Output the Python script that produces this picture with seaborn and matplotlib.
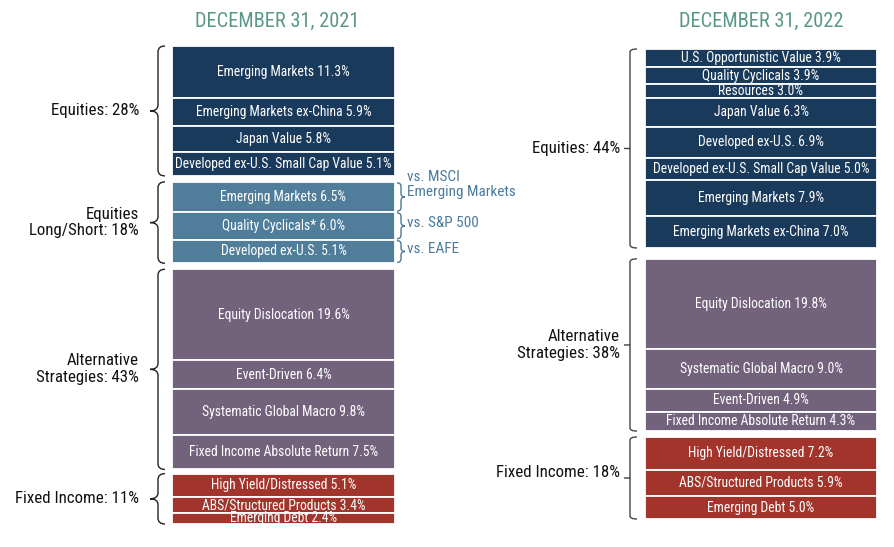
import pandas as pd
import matplotlib
matplotlib.use("Agg")
import matplotlib.pyplot as plt
import seaborn as sns
from matplotlib import font_manager
from matplotlib.path import Path
from matplotlib.patches import PathPatch
from matplotlib.transforms import blended_transform_factory


# ---------------- data ----------------

names_2021 = [
    "Emerging Markets", "Emerging Markets ex-China", "Japan Value",
    "Developed ex-U.S. Small Cap Value",
    "Emerging Markets", "Quality Cyclicals*", "Developed ex-U.S.",
    "Equity Dislocation", "Event-Driven", "Systematic Global Macro",
    "Fixed Income Absolute Return",
    "High Yield/Distressed", "ABS/Structured Products", "Emerging Debt",
]
values_2021 = [11.3, 5.9, 5.8, 5.1, 6.5, 6.0, 5.1, 19.6, 6.4, 9.8, 7.5, 5.1, 3.4, 2.4]
groups_2021 = ["Equities: 28%", "Equities\nLong/Short: 18%",
               "Alternative\nStrategies: 43%", "Fixed Income: 11%"]
group_sizes_2021 = [4, 3, 4, 3]
group_kinds_2021 = ["eq", "ls", "alt", "fi"]
benchmarks_2021 = ["vs. MSCI\nEmerging Markets", "vs. S&P 500", "vs. EAFE"]

names_2022 = [
    "U.S. Opportunistic Value", "Quality Cyclicals", "Resources", "Japan Value",
    "Developed ex-U.S.", "Developed ex-U.S. Small Cap Value",
    "Emerging Markets", "Emerging Markets ex-China",
    "Equity Dislocation", "Systematic Global Macro", "Event-Driven",
    "Fixed Income Absolute Return",
    "High Yield/Distressed", "ABS/Structured Products", "Emerging Debt",
]
values_2022 = [3.9, 3.9, 3.0, 6.3, 6.9, 5.0, 7.9, 7.0, 19.8, 9.0, 4.9, 4.3, 7.2, 5.9, 5.0]
groups_2022 = ["Equities: 44%", "Alternative\nStrategies: 38%", "Fixed Income: 18%"]
group_sizes_2022 = [8, 4, 3]
group_kinds_2022 = ["eq", "alt", "fi"]

colors = {"eq": "#193a5b", "ls": "#4f7d9a", "alt": "#72627c", "fi": "#a3342b"}
title_color = "#5a9787"
bench_color = "#4a7b9d"


# ---------------- style ----------------

sns.set_theme(style="white")
avail = {f.name for f in font_manager.fontManager.ttflist}
family = "DejaVu Sans"
for cand in ["Roboto Condensed", "Liberation Sans Narrow", "Roboto"]:
    if cand in avail:
        family = cand
        break
plt.rcParams["font.family"] = [family, "DejaVu Sans"]

W, H = 894, 547
fig = plt.figure(figsize=(W / 100, H / 100), dpi=100)


def fx(px):
    return px / W


def build(names, values, sizes, kinds, gaps):
    rows = []
    pos = 0.0
    k = 0
    for g, (n, kind) in enumerate(zip(sizes, kinds)):
        for i in range(n):
            rows.append({"panel": "p", "name": names[k], "value": values[k],
                         "bottom": pos, "group": g, "kind": kind})
            pos += values[k]
            k += 1
        if g < len(gaps):
            pos += gaps[g]
    return pd.DataFrame(rows), pos


def brace(ax, y0, y1, x_end, x_line, x_tip, r, color, lw=1.0, curly=True):
    tr = blended_transform_factory(fig.transFigure, ax.transData)
    ym = (y0 + y1) / 2
    if curly:
        verts = [(x_end, y0), (x_line, y0), (x_line, y0 + r),
                 (x_line, ym - r), (x_line, ym), (x_tip, ym),
                 (x_line, ym), (x_line, ym + r),
                 (x_line, y1 - r), (x_line, y1), (x_end, y1)]
        codes = [Path.MOVETO, Path.CURVE3, Path.CURVE3,
                 Path.LINETO, Path.CURVE3, Path.CURVE3,
                 Path.CURVE3, Path.CURVE3,
                 Path.LINETO, Path.CURVE3, Path.CURVE3]
    else:
        verts = [(x_end, y0), (x_line, y0), (x_line, y0 + r),
                 (x_line, y1 - r), (x_line, y1), (x_end, y1),
                 (x_tip, ym), (x_line, ym)]
        codes = [Path.MOVETO, Path.CURVE3, Path.CURVE3,
                 Path.LINETO, Path.CURVE3, Path.CURVE3,
                 Path.MOVETO, Path.LINETO]
    ax.add_patch(PathPatch(Path(verts, codes), transform=tr, fill=False,
                           edgecolor=color, lw=lw, clip_on=False))


def draw_panel(ax, df, total):
    for _, row in df.iterrows():
        sns.barplot(data=df.loc[[_]], x="panel", y="value", bottom=row["bottom"],
                    width=1.0, color=colors[row["kind"]], saturation=1,
                    edgecolor="white", linewidth=1.3, errorbar=None, ax=ax)
        ax.text(0, row["bottom"] + row["value"] / 2,
                f"{row['name']} {row['value']:.1f}%",
                ha="center", va="center", color="white", fontsize=9.8)
    ax.set_xlim(-0.5, 0.5)
    ax.set_ylim(total, 0)
    ax.axis("off")


# ---------------- 2021 panel ----------------

df21, tot21 = build(names_2021, values_2021, group_sizes_2021, group_kinds_2021,
                    [1.3, 1.3, 0.9])
ax1 = fig.add_axes([fx(172), 1 - 524 / H, fx(395) - fx(172), (524 - 46) / H])
draw_panel(ax1, df21, tot21)

for g, label in enumerate(groups_2021):
    sub = df21[df21["group"] == g]
    y0 = sub["bottom"].min()
    y1 = (sub["bottom"] + sub["value"]).max()
    brace(ax1, y0, y1, fx(165), fx(158), fx(150), 1.3, "#222222", lw=1.0)
    ax1.text(fx(139), (y0 + y1) / 2, label, ha="right", va="center",
             fontsize=12.2, color="#111111", linespacing=1.15,
             transform=blended_transform_factory(fig.transFigure, ax1.transData))

ls = df21[df21["kind"] == "ls"].reset_index(drop=True)
for i, row in ls.iterrows():
    y0 = row["bottom"]
    y1 = row["bottom"] + row["value"]
    brace(ax1, y0 + 0.2, y1 - 0.2, fx(397), fx(401), fx(405), 0.8, bench_color, lw=1.0)
    ym = (y0 + y1) / 2
    text = benchmarks_2021[i]
    ty = ym - 2.7 if "\n" in text else ym - 0.6
    ax1.text(fx(407), ty, text, ha="left", va="center", fontsize=11,
             color=bench_color, linespacing=1.1,
             transform=blended_transform_factory(fig.transFigure, ax1.transData))

fig.text(fx(277), 1 - 21 / H, "DECEMBER 31, 2021", ha="center", va="center",
         fontsize=14.7, color=title_color)


# ---------------- 2022 panel ----------------

df22, tot22 = build(names_2022, values_2022, group_sizes_2022, group_kinds_2022,
                    [2.4, 1.3])
ax2 = fig.add_axes([fx(645), 1 - 519 / H, fx(877) - fx(645), (519 - 49) / H])
draw_panel(ax2, df22, tot22)

for g, label in enumerate(groups_2022):
    sub = df22[df22["group"] == g]
    y0 = sub["bottom"].min()
    y1 = (sub["bottom"] + sub["value"]).max()
    brace(ax2, y0, y1, fx(637), fx(630), fx(624), 0.7, "#444444", lw=1.0, curly=False)
    ty = (y0 + y1) / 2 - (1.3 if g == 2 else 0)
    ax2.text(fx(620), ty, label, ha="right", va="center",
             fontsize=12.2, color="#111111", linespacing=1.15,
             transform=blended_transform_factory(fig.transFigure, ax2.transData))

fig.text(fx(761), 1 - 21 / H, "DECEMBER 31, 2022", ha="center", va="center",
         fontsize=14.7, color=title_color)

fig.savefig("out.png", dpi=100)
